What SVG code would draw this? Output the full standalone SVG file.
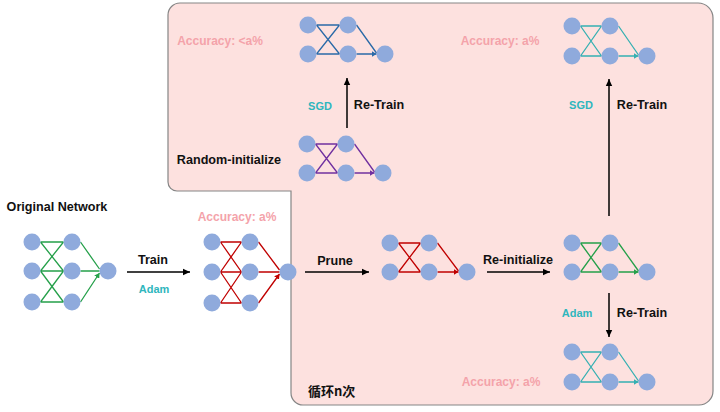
<svg xmlns="http://www.w3.org/2000/svg" width="720" height="412" viewBox="0 0 720 412">
<defs>
<style>
.n{fill:#8faadc}
.t{font-family:"Liberation Sans",Arial,sans-serif;font-weight:bold;font-size:12.6px;fill:#111;text-anchor:middle}
.acc{fill:#f4a3aa;font-size:12px}
.opt{fill:#2fb6bd;font-size:11px}
.g{stroke:#25a04a;stroke-width:1.3;fill:none;marker-end:url(#ag)}
.r{stroke:#c00000;stroke-width:1.3;fill:none;marker-end:url(#ar)}
.b{stroke:#2a6aa8;stroke-width:1.3;fill:none;marker-end:url(#ab)}
.p{stroke:#7030a0;stroke-width:1.3;fill:none;marker-end:url(#ap)}
.c{stroke:#35b0b2;stroke-width:1.3;fill:none;marker-end:url(#ac)}
.big{stroke:#000;stroke-width:1.5;fill:none;marker-end:url(#ak)}
</style>
<marker id="ag" markerUnits="userSpaceOnUse" markerWidth="6" markerHeight="6" refX="5" refY="3" orient="auto"><path d="M0,0 L5,3 L0,6 Z" fill="#25a04a"/></marker>
<marker id="ar" markerUnits="userSpaceOnUse" markerWidth="6" markerHeight="6" refX="5" refY="3" orient="auto"><path d="M0,0 L5,3 L0,6 Z" fill="#c00000"/></marker>
<marker id="ab" markerUnits="userSpaceOnUse" markerWidth="6" markerHeight="6" refX="5" refY="3" orient="auto"><path d="M0,0 L5,3 L0,6 Z" fill="#2a6aa8"/></marker>
<marker id="ap" markerUnits="userSpaceOnUse" markerWidth="6" markerHeight="6" refX="5" refY="3" orient="auto"><path d="M0,0 L5,3 L0,6 Z" fill="#7030a0"/></marker>
<marker id="ac" markerUnits="userSpaceOnUse" markerWidth="6" markerHeight="6" refX="5" refY="3" orient="auto"><path d="M0,0 L5,3 L0,6 Z" fill="#35b0b2"/></marker>
<marker id="ak" markerUnits="userSpaceOnUse" markerWidth="8" markerHeight="8" refX="7" refY="4" orient="auto"><path d="M0,0.8 L7,4 L0,7.2 Z" fill="#000"/></marker>
</defs>
<rect width="720" height="412" fill="#fff"/>
<path id="loop-region" d="M180,3 H698 A15,15 0 0 1 713,18 V391 A14,14 0 0 1 699,405 H303 A12,12 0 0 1 291,393 V191 H177 A9,9 0 0 1 168,182 V15 A12,12 0 0 1 180,3 Z" fill="#fde1df" stroke="#858585" stroke-width="1.2"/>

<g id="original-network">
<path class="g" d="M40.5,242 L63.5,242 M40.5,242 L63.5,271 M40.5,271 L63.5,242 M40.5,271 L63.5,271 M40.5,271 L63.5,302 M40.5,302 L63.5,271 M40.5,302 L63.5,302 M80.5,242 L99.5,269 M80.5,271 L99.5,271 M80.5,302 L99.5,273"/>
<circle class="n" cx="32" cy="242" r="8.5"/><circle class="n" cx="32" cy="271" r="8.5"/><circle class="n" cx="32" cy="302" r="8.5"/>
<circle class="n" cx="72" cy="242" r="8.5"/><circle class="n" cx="72" cy="271" r="8.5"/><circle class="n" cx="72" cy="302" r="8.5"/>
<circle class="n" cx="108" cy="271" r="8.5"/>
<text class="t" x="57" y="211">Original Network</text>
</g>

<g id="trained-network">
<path class="r" d="M220.5,242 L241.5,242 M220.5,242 L241.5,272 M220.5,272 L241.5,242 M220.5,272 L241.5,272 M220.5,272 L241.5,303 M220.5,303 L241.5,272 M220.5,303 L241.5,303 M258.5,242 L279.5,270 M258.5,272 L279.5,272 M258.5,303 L279.5,274"/>
<circle class="n" cx="212" cy="242" r="8.5"/><circle class="n" cx="212" cy="272" r="8.5"/><circle class="n" cx="212" cy="303" r="8.5"/>
<circle class="n" cx="250" cy="242" r="8.5"/><circle class="n" cx="250" cy="272" r="8.5"/><circle class="n" cx="250" cy="303" r="8.5"/>
<circle class="n" cx="288" cy="272" r="8.5"/>
<text class="t acc" x="237" y="221">Accuracy: a%</text>
</g>

<g id="pruned-network">
<path class="r" d="M398.5,243 L420.5,243 M398.5,243 L420.5,272 M398.5,272 L420.5,243 M398.5,272 L420.5,272 M437.5,243 L458.5,271 M437.5,272 L458.5,272"/>
<circle class="n" cx="390" cy="243" r="8.5"/><circle class="n" cx="390" cy="272" r="8.5"/>
<circle class="n" cx="429" cy="243" r="8.5"/><circle class="n" cx="429" cy="272" r="8.5"/>
<circle class="n" cx="467" cy="272" r="8.5"/>
</g>

<g id="reinit-network">
<path class="g" d="M580.5,243 L601.5,243 M580.5,243 L601.5,272 M580.5,272 L601.5,243 M580.5,272 L601.5,272 M618.5,243 L638.5,271 M618.5,272 L638.5,272"/>
<circle class="n" cx="572" cy="243" r="8.5"/><circle class="n" cx="572" cy="272" r="8.5"/>
<circle class="n" cx="610" cy="243" r="8.5"/><circle class="n" cx="610" cy="272" r="8.5"/>
<circle class="n" cx="647" cy="272" r="8.5"/>
</g>

<g id="sgd-retrained-network">
<path class="c" d="M580.5,26 L601.5,26 M580.5,26 L601.5,56 M580.5,56 L601.5,26 M580.5,56 L601.5,56 M618.5,26 L638.5,55 M618.5,56 L638.5,56"/>
<circle class="n" cx="572" cy="26" r="8.5"/><circle class="n" cx="572" cy="56" r="8.5"/>
<circle class="n" cx="610" cy="26" r="8.5"/><circle class="n" cx="610" cy="56" r="8.5"/>
<circle class="n" cx="647" cy="56" r="8.5"/>
<text class="t acc" x="500" y="45">Accuracy: a%</text>
</g>

<g id="adam-retrained-network">
<path class="c" d="M580.5,352 L601.5,352 M580.5,352 L601.5,382 M580.5,382 L601.5,352 M580.5,382 L601.5,382 M618.5,352 L638.5,381 M618.5,382 L638.5,382"/>
<circle class="n" cx="572" cy="352" r="8.5"/><circle class="n" cx="572" cy="382" r="8.5"/>
<circle class="n" cx="610" cy="352" r="8.5"/><circle class="n" cx="610" cy="382" r="8.5"/>
<circle class="n" cx="647" cy="382" r="8.5"/>
<text class="t acc" x="501" y="386">Accuracy: a%</text>
</g>

<g id="random-retrained-network">
<path class="b" d="M316.5,25 L339.5,25 M316.5,25 L339.5,54 M316.5,54 L339.5,25 M316.5,54 L339.5,54 M356.5,25 L376.5,53 M356.5,54 L376.5,54"/>
<circle class="n" cx="308" cy="25" r="8.5"/><circle class="n" cx="308" cy="54" r="8.5"/>
<circle class="n" cx="348" cy="25" r="8.5"/><circle class="n" cx="348" cy="54" r="8.5"/>
<circle class="n" cx="385" cy="54" r="8.5"/>
<text class="t acc" x="220" y="45">Accuracy: &lt;a%</text>
</g>

<g id="random-init-network">
<path class="p" d="M315.5,144 L337.5,144 M315.5,144 L337.5,173 M315.5,173 L337.5,144 M315.5,173 L337.5,173 M354.5,144 L374.5,172 M354.5,173 L374.5,173"/>
<circle class="n" cx="307" cy="144" r="8.5"/><circle class="n" cx="307" cy="173" r="8.5"/>
<circle class="n" cx="346" cy="144" r="8.5"/><circle class="n" cx="346" cy="173" r="8.5"/>
<circle class="n" cx="383" cy="173" r="8.5"/>
<text class="t" x="229" y="164">Random-initialize</text>
</g>

<g id="connectors">
<path class="big" d="M127,272 L190,272"/>
<path class="big" d="M305,272 L369,272"/>
<path class="big" d="M487,272 L550,272"/>
<path class="big" d="M609,216 L609,79"/>
<path class="big" d="M609,293 L609,337"/>
<path class="big" d="M347,128 L347,78"/>
<text class="t" x="153" y="264">Train</text>
<text class="t opt" x="154" y="293">Adam</text>
<text class="t" x="335" y="265">Prune</text>
<text class="t" x="518" y="264">Re-initialize</text>
<text class="t opt" x="320" y="110">SGD</text>
<text class="t" x="379" y="109">Re-Train</text>
<text class="t opt" x="581" y="109">SGD</text>
<text class="t" x="642" y="109">Re-Train</text>
<text class="t opt" x="577" y="317">Adam</text>
<text class="t" x="642" y="317">Re-Train</text>
</g>

<text x="308" y="396" style="font-family:'Noto Sans CJK SC','Liberation Sans',sans-serif;font-weight:bold;font-size:13px;fill:#111">循环n次</text>
</svg>
